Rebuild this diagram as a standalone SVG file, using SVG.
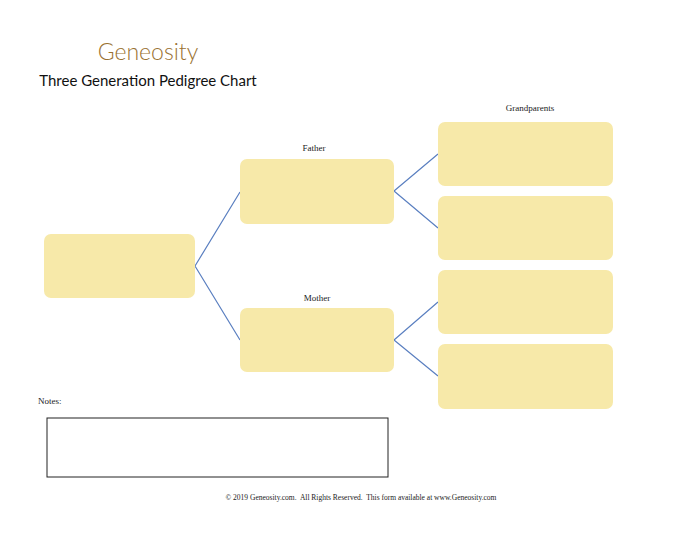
<svg xmlns="http://www.w3.org/2000/svg" width="700" height="541" viewBox="0 0 700 541">
<style>
.box{fill:#f7e9a9;}
.ln{stroke:#5a7fc0;stroke-width:1.2;fill:none;}
.lbl{font-family:"Liberation Serif",serif;font-size:9px;fill:#222;text-anchor:middle;}
</style>
<rect width="700" height="541" fill="#fff"/>
<text x="148" y="60" font-family="Lato,'Open Sans',sans-serif" font-size="23" font-weight="300" fill="#9a7232" text-anchor="middle">Geneosity</text>
<text x="148" y="86" font-family="Lato,'Open Sans',sans-serif" font-size="15" fill="#111" text-anchor="middle">Three Generation Pedigree Chart</text>
<g id="connectors">
<path class="ln" d="M195,266 L240,192 M195,266 L240,340 M394,191 L438,154 M394,191 L438,228 M394,340 L438,302 M394,340 L438,376"/>
</g>
<g id="self"><rect class="box" x="44" y="234" width="151" height="64" rx="7"/></g>
<g id="father"><text class="lbl" x="314" y="151">Father</text><rect class="box" x="240" y="159" width="154" height="65" rx="7"/></g>
<g id="mother"><text class="lbl" x="317" y="301">Mother</text><rect class="box" x="240" y="308" width="154" height="64" rx="7"/></g>
<g id="grandparents"><text class="lbl" x="530" y="111">Grandparents</text></g>
<g id="gp1"><rect class="box" x="438" y="122" width="175" height="64" rx="7"/></g>
<g id="gp2"><rect class="box" x="438" y="196" width="175" height="64" rx="7"/></g>
<g id="gp3"><rect class="box" x="438" y="270" width="175" height="64" rx="7"/></g>
<g id="gp4"><rect class="box" x="438" y="344" width="175" height="65" rx="7"/></g>
<g id="notes"><text x="38" y="404" font-family="Liberation Serif,serif" font-size="9" fill="#222">Notes:</text>
<rect x="47" y="418" width="341" height="59" fill="none" stroke="#222" stroke-width="1"/></g>
<text class="lbl" x="361" y="500" style="font-size:7.5px" xml:space="preserve">© 2019 Geneosity.com.  All Rights Reserved.  This form available at www.Geneosity.com</text>
</svg>
